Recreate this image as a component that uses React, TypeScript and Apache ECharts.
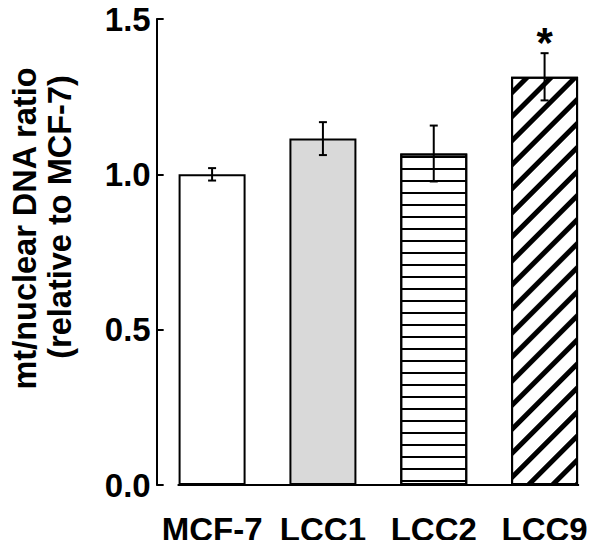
import React, { useEffect, useRef } from "react";
import * as echarts from "echarts";

const categories = ["MCF-7", "LCC1", "LCC2", "LCC9"];
const values = [1.0, 1.115, 1.067, 1.314];
const errors = [0.02, 0.053, 0.09, 0.076];
const marks = ["", "", "", "*"];
const yName = ["mt/nuclear DNA ratio", "(relative to MCF-7)"];
const yMin = 0;
const yMax = 1.5;
const yInterval = 0.5;

const FONT = "Liberation Sans, Arial, Helvetica, sans-serif";
const BAR_W = 67;

const barStyles = [
  { color: "#ffffff" },
  { color: "#d9d9d9" },
  {
    color: "#ffffff",
    decal: {
      symbol: "rect",
      symbolSize: 1,
      dashArrayX: [1, 0],
      dashArrayY: [2, 10],
      color: "#000000",
      backgroundColor: "#ffffff",
      rotation: 0,
    },
  },
  {
    color: "#ffffff",
    decal: {
      symbol: "rect",
      symbolSize: 1,
      dashArrayX: [1, 0],
      dashArrayY: [5, 12],
      color: "#000000",
      backgroundColor: "#ffffff",
      rotation: -Math.PI / 4,
    },
  },
];

export default function App() {
  const ref = useRef<HTMLDivElement>(null);
  useEffect(() => {
    if (!ref.current) return;
    const chart = echarts.init(ref.current, null, { renderer: "svg" });
    const option: any = {
      animation: false,
      backgroundColor: "#ffffff",
      grid: { left: 156.67, top: 19, width: 446.67, bottom: 63, containLabel: false },
      xAxis: {
        type: "category",
        data: categories,
        boundaryGap: true,
        axisLine: { show: false },
        axisTick: { show: false },
        axisLabel: {
          interval: 0,
          margin: 28,
          color: "#000",
          fontSize: 33,
          fontWeight: "bold",
          fontFamily: FONT,
        },
      },
      yAxis: {
        type: "value",
        min: yMin,
        max: yMax,
        interval: yInterval,
        axisLine: { show: true, lineStyle: { color: "#000", width: 2 } },
        axisTick: { show: true, inside: true, length: 7, lineStyle: { color: "#000", width: 2 } },
        splitLine: { show: false },
        axisLabel: {
          margin: 6,
          color: "#000",
          fontSize: 33,
          fontWeight: "bold",
          fontFamily: FONT,
          formatter: (v: number) => v.toFixed(1),
        },
      },
      graphic: [
        {
          type: "text",
          x: 25,
          y: 228.5,
          rotation: Math.PI / 2,
          style: {
            text: yName[0],
            font: `bold 32.5px ${FONT}`,
            fill: "#000",
            align: "center",
            verticalAlign: "middle",
          },
        },
        {
          type: "text",
          x: 60,
          y: 217,
          rotation: Math.PI / 2,
          style: {
            text: yName[1],
            font: `bold 32.5px ${FONT}`,
            fill: "#000",
            align: "center",
            verticalAlign: "middle",
          },
        },
      ],
      series: [
        {
          type: "bar",
          barWidth: BAR_W,
          data: values.map((v, i) => ({
            value: v,
            itemStyle: { ...barStyles[i], borderColor: "#000", borderWidth: 2 },
          })),
          z: 2,
        },
        {
          type: "custom",
          z: 5,
          data: values.map((v, i) => [i, v, errors[i], marks[i]]),
          encode: { x: 0, y: 1 },
          renderItem: (params: any, api: any) => {
            const i = api.value(0);
            const v = api.value(1);
            const e = api.value(2);
            const top = api.coord([i, v + e]);
            const bot = api.coord([i, v - e]);
            const cap = 4;
            const ls = { stroke: "#000", lineWidth: 2 };
            const children: any[] = [
              { type: "line", shape: { x1: top[0], y1: top[1], x2: bot[0], y2: bot[1] }, style: ls },
              { type: "line", shape: { x1: top[0] - cap, y1: top[1], x2: top[0] + cap, y2: top[1] }, style: ls },
              { type: "line", shape: { x1: bot[0] - cap, y1: bot[1], x2: bot[0] + cap, y2: bot[1] }, style: ls },
            ];
            const m = marks[params.dataIndex];
            if (m) {
              children.push({
                type: "text",
                style: {
                  text: m,
                  x: top[0],
                  y: top[1] - 11,
                  align: "center",
                  verticalAlign: "middle",
                  font: `bold 42px ${FONT}`,
                  fill: "#000",
                },
              });
            }
            if (params.dataIndex === 0) {
              const first = api.coord([0, 0]);
              const last = api.coord([categories.length - 1, 0]);
              children.push({
                type: "line",
                shape: {
                  x1: first[0] - BAR_W / 2 - 1,
                  y1: first[1],
                  x2: last[0] + BAR_W / 2 + 1,
                  y2: last[1],
                },
                style: ls,
              });
            }
            return { type: "group", children };
          },
        },
      ],
    };
    chart.setOption(option);
    return () => chart.dispose();
  }, []);
  return <div ref={ref} style={{ width: 600, height: 548, margin: -8 }} />;
}
